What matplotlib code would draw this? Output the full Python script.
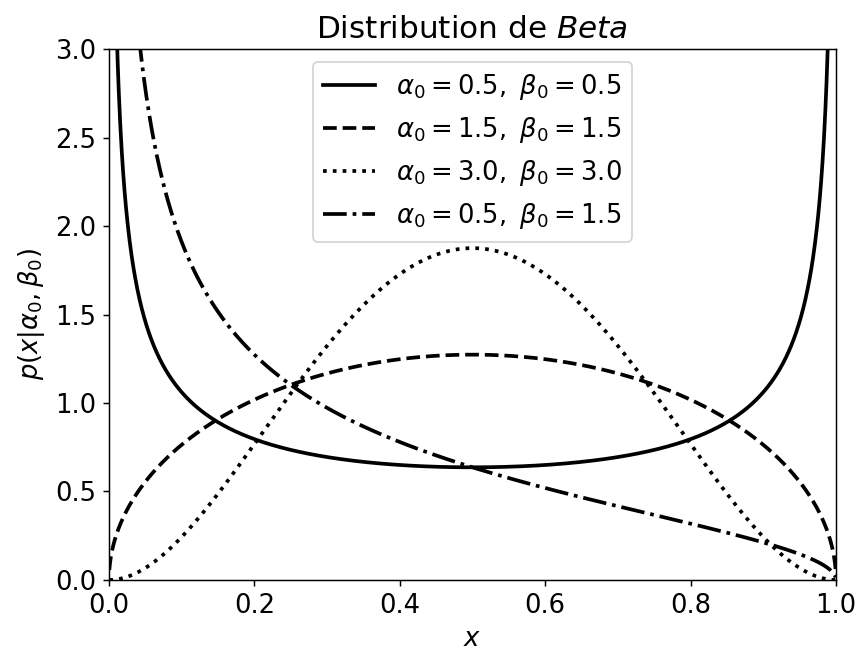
import math
import numpy as np
import matplotlib
matplotlib.use("Agg")
import matplotlib.pyplot as plt

# parametres (alpha0, beta0) de chaque courbe et style de trait
alphas = [0.5, 1.5, 3.0, 0.5]
betas = [0.5, 1.5, 3.0, 1.5]
styles = ['-', '--', ':', '-.']


def beta_pdf(x, a, b):
    norm = math.gamma(a + b) / (math.gamma(a) * math.gamma(b))
    return norm * x ** (a - 1) * (1 - x) ** (b - 1)


plt.rcParams['font.size'] = 14

x = np.linspace(0.0005, 0.9995, 2000)

fig = plt.figure(figsize=(856 / 133.33, 659 / 133.33), dpi=133.33)
ax = fig.add_axes([0.1273, 0.1199, 0.8493, 0.8057])

for a, b, ls in zip(alphas, betas, styles):
    ax.plot(x, beta_pdf(x, a, b), color='black', linestyle=ls, linewidth=2,
            label=r'$\alpha_0 = %.1f,\ \beta_0 = %.1f$' % (a, b))

ax.set_xlim(0, 1)
ax.set_ylim(0, 3)
ax.set_xlabel(r'$x$')
ax.set_ylabel(r'$p(x|\alpha_0, \beta_0)$')
ax.set_title(r'Distribution de $\it{Beta}$')
ax.legend(loc='upper center')

fig.savefig('out.png', dpi=133.33)
